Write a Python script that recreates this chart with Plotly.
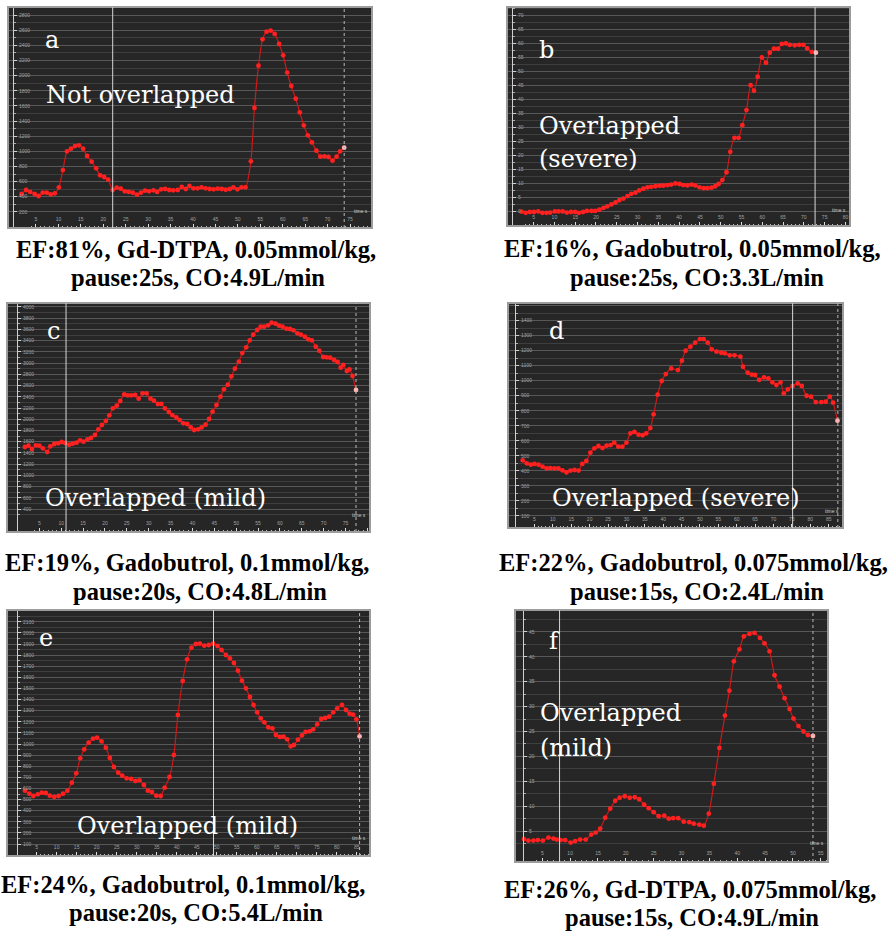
import plotly.graph_objects as go

W, H = 894, 932

# ---------------- data (time in s, signal intensity) ----------------
a_t = [1.8, 2.8, 3.7, 4.7, 5.6, 6.5, 7.4, 8.3, 9.2, 10.1, 11.0, 11.9, 12.8, 13.7, 14.6, 15.5, 16.4, 17.4, 18.4, 19.3,
       20.2, 21.1, 22.1, 23.0, 23.9, 24.8, 25.7, 26.6, 27.5, 28.4, 29.3, 30.2, 31.2, 32.0, 32.9, 33.8, 34.7, 35.6, 36.6, 37.5,
       38.4, 39.2, 40.1, 41.0, 41.9, 42.8, 43.7, 44.6, 45.5, 46.4, 47.3, 48.2, 49.0, 49.9, 50.8, 51.7, 52.9, 53.7, 54.6, 55.5,
       56.4, 57.3, 58.2, 59.2, 60.1, 61.0, 61.9, 62.9, 63.8, 64.7, 65.6, 66.5, 67.5, 68.4, 69.3, 70.2, 71.1, 72.0, 72.8, 73.7]
a_v = [436, 489, 463, 436, 410, 454, 454, 432, 445, 524, 753, 1000, 1035, 1070, 1079, 1035, 938, 863, 775, 683,
       661, 626, 489, 520, 507, 471, 463, 454, 427, 454, 480, 471, 485, 463, 498, 502, 489, 485, 489, 529,
       502, 542, 511, 511, 524, 511, 502, 498, 507, 502, 493, 502, 524, 498, 524, 524, 868, 1573, 2132, 2480,
       2581, 2595, 2551, 2418, 2269, 2040, 1863, 1696, 1515, 1344, 1211, 1119, 1009, 930, 934, 925, 877, 930, 1000, 1048]

b_t = [2.1, 3.1, 4.1, 5.1, 6.1, 7.1, 8.1, 9.0, 10.1, 11.0, 12.0, 13.0, 14.0, 15.0, 15.9, 16.9, 17.8, 18.9, 19.8, 20.8,
       21.8, 22.7, 23.7, 24.7, 25.6, 26.6, 27.6, 28.5, 29.5, 30.4, 31.4, 32.4, 33.3, 34.3, 35.3, 36.2, 37.2, 38.1, 39.1, 40.1,
       41.0, 42.0, 43.0, 43.9, 44.9, 45.9, 46.8, 47.8, 48.7, 49.5, 50.4, 51.4, 52.3, 53.3, 54.3, 55.2, 56.2, 57.2, 58.0, 58.9,
       59.9, 60.9, 61.8, 62.8, 63.8, 64.7, 65.7, 66.6, 67.8, 68.9, 69.9, 70.8, 71.9, 72.9]
b_v = [-0.1, -0.5, -0.2, -0.2, 0.0, -0.5, -0.5, -0.4, 0.0, 0.0, 0.0, -0.4, -0.2, -0.2, -0.5, -0.2, 0.2, 0.2, 0.2, 0.6,
       1.3, 1.8, 2.5, 3.2, 4.0, 4.6, 5.5, 6.3, 6.7, 7.5, 8.1, 8.6, 8.8, 9.0, 9.2, 9.2, 9.4, 9.6, 10.0, 9.8,
       9.4, 9.3, 9.6, 9.3, 8.6, 8.3, 8.3, 8.5, 9.0, 9.8, 11.2, 14.0, 21.3, 26.3, 26.3, 30.8, 36.2, 45.1, 43.1, 48.1,
       55.0, 53.1, 56.7, 58.1, 58.1, 59.8, 60.0, 59.5, 59.3, 59.5, 59.5, 58.2, 57.0, 56.7]

c_t = [1.7, 2.5, 3.3, 4.2, 5.0, 5.8, 6.8, 7.5, 8.4, 9.3, 10.1, 10.9, 11.8, 12.6, 13.5, 14.3, 15.1, 16.0, 16.8, 17.7,
       18.5, 19.3, 20.2, 21.0, 21.8, 22.7, 23.5, 24.4, 25.2, 26.0, 26.9, 27.7, 28.6, 29.5, 30.4, 31.2, 32.1, 32.9, 33.7, 34.6,
       35.4, 36.3, 37.1, 37.9, 38.8, 39.6, 40.4, 41.3, 42.1, 43.0, 43.8, 44.6, 45.5, 46.4, 47.2, 48.1, 48.9, 49.7, 50.6, 51.4,
       52.3, 53.1, 53.9, 54.8, 55.6, 56.4, 57.3, 58.1, 59.0, 59.8, 60.6, 61.5, 62.3, 63.1, 64.0, 64.8, 65.7, 66.5, 67.3, 68.2,
       69.0, 69.9, 70.7, 71.5, 72.4, 73.2, 73.9, 74.5, 75.3, 75.9, 76.6, 77.4]
c_v = [1506, 1529, 1470, 1535, 1529, 1482, 1417, 1518, 1559, 1571, 1595, 1577, 1547, 1565, 1583, 1624, 1601, 1642, 1666, 1719,
       1820, 1897, 1969, 2070, 2194, 2242, 2325, 2443, 2426, 2426, 2432, 2366, 2461, 2461, 2366, 2331, 2271, 2271, 2194, 2129,
       2075, 2034, 1986, 1927, 1915, 1856, 1808, 1820, 1856, 1903, 2004, 2135, 2254, 2402, 2532, 2616, 2764, 2900, 3025, 3179,
       3280, 3405, 3506, 3589, 3648, 3648, 3672, 3719, 3702, 3666, 3648, 3613, 3607, 3583, 3530, 3506, 3470, 3423, 3405, 3292,
       3221, 3108, 3102, 3096, 3055, 3019, 2918, 2966, 2859, 2889, 2770, 2521]

d_t = [1.8, 2.9, 4.0, 5.0, 6.1, 7.2, 8.3, 9.3, 10.4, 11.5, 12.6, 13.7, 14.8, 15.9, 17.0, 18.0, 19.1, 20.2, 21.3, 22.4,
       23.5, 24.6, 25.7, 26.7, 27.8, 28.9, 30.0, 31.1, 32.2, 33.3, 34.4, 35.4, 36.5, 37.4, 38.5, 39.6, 40.7, 42.2, 44.0, 45.1,
       46.1, 47.4, 48.7, 50.0, 51.0, 52.1, 53.2, 54.5, 55.8, 56.8, 58.1, 59.4, 61.0, 61.7, 63.0, 64.1, 65.0, 66.1, 67.4, 68.6,
       69.7, 70.8, 71.9, 72.8, 73.9, 75.2, 76.6, 77.7, 79.0, 80.2, 81.5, 83.0, 84.2, 85.3, 86.2, 87.4]
d_v = [470, 450, 441, 446, 441, 428, 417, 419, 417, 417, 404, 390, 402, 406, 402, 446, 466, 521, 550, 566,
       552, 568, 572, 588, 561, 561, 588, 650, 659, 641, 637, 650, 685, 776, 907, 998, 1044, 1082, 1071, 1133,
       1200, 1226, 1253, 1277, 1277, 1253, 1209, 1193, 1186, 1182, 1169, 1169, 1160, 1093, 1053, 1040, 1038, 1005, 1022, 1016,
       989, 971, 989, 916, 942, 965, 982, 965, 900, 894, 858, 858, 860, 894, 854, 734]

e_t = [2.1, 3.2, 4.2, 5.3, 6.3, 7.3, 8.3, 9.4, 10.5, 11.6, 12.7, 13.8, 14.9, 15.9, 16.9, 18.0, 19.1, 20.1, 21.2, 22.3,
       23.3, 24.3, 25.4, 26.4, 27.5, 28.6, 29.7, 30.7, 31.8, 32.8, 33.8, 34.9, 36.0, 37.0, 38.2, 39.3, 40.3, 41.5, 42.6, 43.7,
       44.8, 45.8, 46.9, 48.0, 49.1, 50.2, 51.2, 52.3, 53.3, 54.3, 55.3, 56.3, 57.3, 58.3, 59.2, 60.1, 61.0, 61.9, 62.9, 63.9,
       64.8, 65.8, 66.7, 67.6, 68.5, 69.3, 70.3, 71.3, 72.2, 73.2, 74.1, 75.1, 76.1, 77.1, 78.1, 79.1, 80.1, 81.3, 82.3, 83.2,
       84.1, 84.9, 85.7]
e_v = [580, 553, 532, 547, 562, 559, 535, 523, 532, 553, 580, 652, 736, 871, 952, 1012, 1048, 1057, 1024, 967,
       874, 793, 742, 715, 691, 685, 667, 673, 631, 580, 568, 535, 532, 607, 703, 901, 1261, 1567, 1762, 1867,
       1900, 1903, 1885, 1891, 1903, 1882, 1846, 1801, 1771, 1729, 1660, 1570, 1501, 1423, 1351, 1285, 1231, 1195, 1150, 1141,
       1081, 1063, 1066, 1042, 979, 991, 1039, 1078, 1108, 1114, 1132, 1177, 1225, 1234, 1246, 1285, 1321, 1351, 1306, 1273,
       1264, 1222, 1069]

f_t = [1.7, 2.5, 3.4, 4.2, 5.1, 6.1, 7.0, 7.6, 8.3, 9.1, 10.1, 10.9, 11.8, 12.8, 13.8, 14.6, 15.4, 16.3, 17.2, 18.1,
       18.9, 19.8, 20.7, 21.6, 22.4, 23.3, 24.1, 25.0, 25.9, 26.9, 27.7, 28.5, 29.4, 30.4, 31.4, 32.2, 33.2, 34.0, 34.9, 35.8,
       36.8, 37.8, 38.6, 39.4, 40.4, 41.2, 42.2, 43.1, 44.1, 44.9, 45.8, 46.7, 47.6, 48.5, 49.4, 50.1, 51.0, 51.9, 52.7, 53.6]
f_v = [3.4, 3.1, 3.1, 3.2, 3.1, 3.7, 3.5, 3.3, 3.2, 3.2, 2.7, 3.0, 3.3, 3.3, 4.3, 4.7, 5.5, 7.7, 9.5, 11.1,
       11.7, 12.0, 11.7, 11.8, 11.4, 10.3, 9.6, 8.8, 8.0, 8.1, 7.5, 7.6, 7.6, 6.9, 6.8, 6.5, 6.3, 6.1, 8.5, 14.5,
       21.7, 28.2, 33.2, 39.1, 41.5, 44.1, 44.6, 44.8, 43.8, 42.7, 41.1, 36.3, 34.0, 31.7, 29.5, 27.6, 26.1, 25.0, 24.3, 24.1]

# cursor (white) line time and end (dashed) line time per panel
cursor_t = [22.1, 72.7, 11.1, 75.2, 49.2, 8.1]
end_t = [73.7, None, 77.4, 87.5, 85.7, 53.6]

letters = ["a", "b", "c", "d", "e", "f"]
labels = [["Not overlapped"], ["Overlapped", "(severe)"], ["Overlapped (mild)"],
          ["Overlapped (severe)"], ["Overlapped (mild)"], ["Overlapped", "(mild)"]]
captions = [["EF:81%, Gd-DTPA, 0.05mmol/kg,", "pause:25s, CO:4.9L/min"],
            ["EF:16%, Gadobutrol, 0.05mmol/kg,", "pause:25s, CO:3.3L/min"],
            ["EF:19%, Gadobutrol, 0.1mmol/kg,", "pause:20s, CO:4.8L/min"],
            ["EF:22%, Gadobutrol, 0.075mmol/kg,", "pause:15s, CO:2.4L/min"],
            ["EF:24%, Gadobutrol, 0.1mmol/kg,", "pause:20s, CO:5.4L/min"],
            ["EF:26%, Gd-DTPA, 0.075mmol/kg,", "pause:15s, CO:4.9L/min"]]

series = [(a_t, a_v), (b_t, b_v), (c_t, c_v), (d_t, d_v), (e_t, e_v), (f_t, f_v)]

# ---------------- layout / style (pixel geometry) ----------------
frames = [(8, 7, 372, 228), (507, 7, 850, 226), (7, 303, 370, 532),
          (508, 303, 843, 528), (7, 610, 370, 856), (515, 610, 828, 862)]
xranges = [[-1.24, 79.9], [-1.4, 81.1], [-2.4, 80.6], [-2.2, 88.9], [-2.4, 88.3], [0.1, 56.3]]
yranges = [[-13, 2907], [-5.2, 73], [-8, 4070], [20, 1517], [-8, 2206], [-1.2, 49.4]]
ymajor = [200, 5, 200, 100, 100, 5]
yminor = [100, 2.5, 100, 50, 50, 2.5]
yaxis_px = [13, 512, 17, 515, 17, 523]

letter_pos = [(43, 40), (537, 50), (45, 331), (547, 331), (37, 638), (547, 641)]
label_pos = [[(44, 95)], [(537, 126), (537, 159)], [(43, 498)], [(550, 498)], [(75, 826)], [(538, 713), (538, 748)]]
caption_pos = [[(196, 249), (198, 278)], [(692, 248), (697, 278)], [(187, 562), (200, 591)],
               [(693, 562), (697, 591)], [(183, 884), (196, 912)], [(690, 889), (692, 917)]]

fig = go.Figure()
shapes, annotations = [], []
tickfont = dict(family="Liberation Sans", size=5, color="#a0a0a0")
overlay_font = dict(family="DejaVu Serif", size=24, color="white")
caption_font = dict(family="Liberation Serif", size=24.5, color="black")

for i in range(6):
    n = i + 1
    xn = "x" if n == 1 else f"x{n}"
    yn = "y" if n == 1 else f"y{n}"
    xa = "xaxis" if n == 1 else f"xaxis{n}"
    ya = "yaxis" if n == 1 else f"yaxis{n}"
    x0, y0, x1, y1 = frames[i]
    t, v = series[i]
    mcol = ["#ff2020"] * (len(t) - 1) + ["#ffb3b3"]
    fig.add_trace(go.Scatter(
        x=t, y=v, xaxis=xn, yaxis=yn, mode="lines+markers",
        line=dict(color="#d01818", width=1.2, shape="spline", smoothing=0.6),
        marker=dict(color=mcol, size=4.8, line=dict(width=0)),
        hoverinfo="skip"))

    fig.layout[xa] = dict(
        domain=[x0 / W, x1 / W], range=xranges[i], anchor=yn,
        tick0=0, dtick=5, ticks="inside", ticklen=4, tickcolor="#dddddd",
        ticklabelposition="inside", tickfont=tickfont,
        showline=True, linecolor="#dddddd", linewidth=1,
        showgrid=False, zeroline=False,
        minor=dict(dtick=1, ticks="inside", ticklen=2, tickcolor="#bbbbbb"))
    fig.layout[ya] = dict(
        domain=[1 - y1 / H, 1 - y0 / H], range=yranges[i], anchor="free",
        position=yaxis_px[i] / W, dtick=ymajor[i], tick0=0,
        ticks="inside", ticklen=3, tickcolor="#cfcfcf",
        ticklabelposition="inside", tickfont=tickfont,
        showline=True, linecolor="#cfcfcf", linewidth=1,
        showgrid=True, gridcolor="#585858", gridwidth=1, zeroline=False,
        minor=dict(dtick=yminor[i], showgrid=True, gridcolor="#3e3e3e",
                   ticks="inside", ticklen=2, tickcolor="#aaaaaa"))

    # frame
    shapes.append(dict(type="rect", xref=f"{xn} domain", yref=f"{yn} domain",
                       x0=0, x1=1, y0=0, y1=1, line=dict(color="#9c9c9c", width=2),
                       fillcolor="rgba(0,0,0,0)", layer="above"))
    # cursor lines
    shapes.append(dict(type="line", xref=xn, yref=f"{yn} domain", x0=cursor_t[i], x1=cursor_t[i],
                       y0=0, y1=1, line=dict(color="#d6d6d6", width=1)))
    if end_t[i] is not None:
        shapes.append(dict(type="line", xref=xn, yref=f"{yn} domain", x0=end_t[i], x1=end_t[i],
                           y0=0, y1=1, line=dict(color="#b8b8b8", width=1, dash="dot")))

    annotations.append(dict(xref=f"{xn} domain", yref=f"{yn} domain", x=0.995, y=0.075,
                            text="time s", showarrow=False, xanchor="right", yanchor="middle",
                            font=dict(family="Liberation Sans", size=5, color="#cccccc")))

    lx, ly = letter_pos[i]
    annotations.append(dict(xref="paper", yref="paper", x=lx / W, y=1 - ly / H, text=letters[i],
                            showarrow=False, xanchor="left", yanchor="middle", font=overlay_font))
    for txt, (px, py) in zip(labels[i], label_pos[i]):
        annotations.append(dict(xref="paper", yref="paper", x=px / W, y=1 - py / H, text=txt,
                                showarrow=False, xanchor="left", yanchor="middle", font=overlay_font))
    for txt, (px, py) in zip(captions[i], caption_pos[i]):
        annotations.append(dict(xref="paper", yref="paper", x=px / W, y=1 - py / H, text=f"<b>{txt}</b>",
                                showarrow=False, xanchor="center", yanchor="middle", font=caption_font))

fig.update_layout(
    width=W, height=H, margin=dict(l=0, r=0, t=0, b=0),
    paper_bgcolor="white", plot_bgcolor="#262626",
    showlegend=False, shapes=shapes, annotations=annotations)

fig.write_html("out.html")
